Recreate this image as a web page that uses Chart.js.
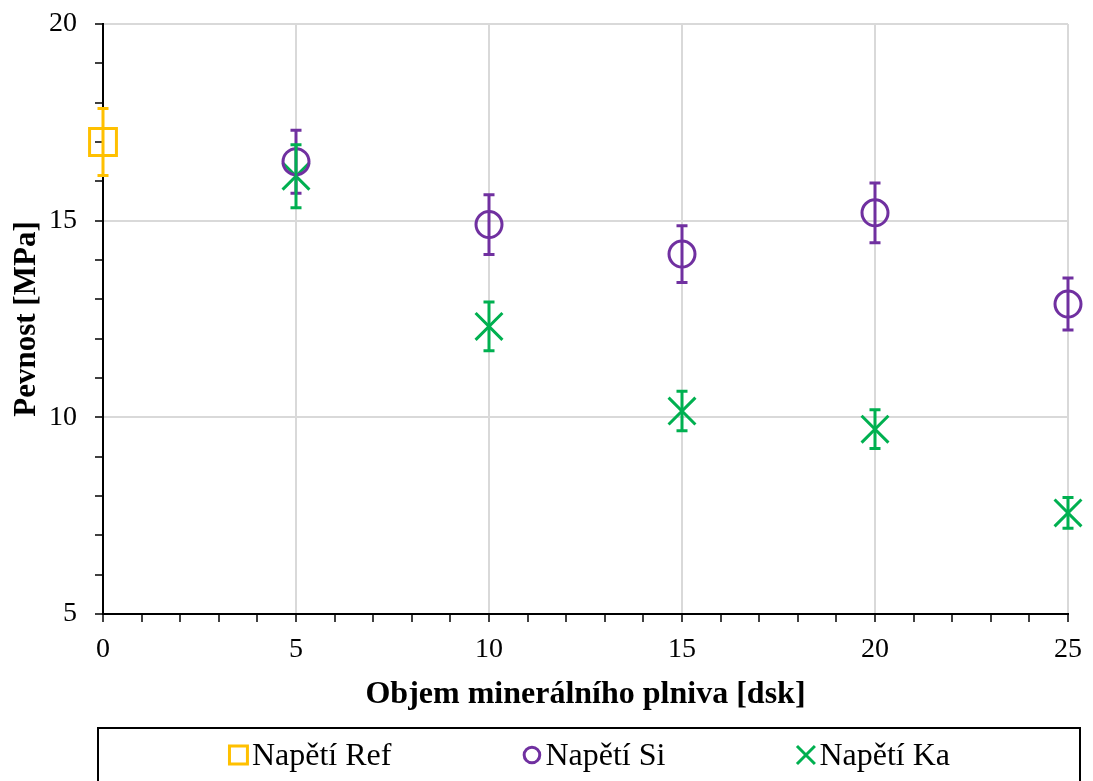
<!DOCTYPE html>
<html>
<head>
<meta charset="utf-8">
<script src="https://cdn.jsdelivr.net/npm/chart.js@4/dist/chart.umd.min.js"></script>
<style>
html,body{margin:0;padding:0;background:#fff;}
#wrap{width:1093px;height:781px;position:relative;}
</style>
</head>
<body>
<div id="wrap"><canvas id="c" width="1093" height="781"></canvas></div>
<script>
// ---- data ----
const refX = [0];
const refY = [17.0];
const refErr = [0.85];

const fillerX = [5, 10, 15, 20, 25];
const siY = [16.5, 14.9, 14.15, 15.2, 12.88];
const siErr = [0.8, 0.76, 0.72, 0.76, 0.66];
const kaY = [16.13, 12.31, 10.16, 9.7, 7.57];
const kaErr = [0.8, 0.62, 0.5, 0.49, 0.39];

const seriesNames = ['Napětí Ref', 'Napětí Si', 'Napětí Ka'];
const xTitle = 'Objem minerálního plniva [dsk]';
const yTitle = 'Pevnost [MPa]';
const xMin = 0, xMax = 25, yMin = 5, yMax = 20, majorStep = 5;

const toPoints = (xs, ys) => xs.map((x, i) => ({x: x, y: ys[i]}));

const FONT = "'Liberation Serif', 'Times New Roman', serif";

const errorBarPlugin = {
  id: 'errorBars',
  afterDatasetsDraw(chart) {
    const ctx = chart.ctx;
    const xs = chart.scales.x, ys = chart.scales.y;
    chart.data.datasets.forEach((ds) => {
      if (!ds.errors) return;
      ctx.save();
      ctx.strokeStyle = ds.borderColor;
      ctx.lineWidth = 3;
      ctx.lineCap = 'butt';
      ds.data.forEach((p, i) => {
        const e = ds.errors[i];
        const px = xs.getPixelForValue(p.x);
        const yt = ys.getPixelForValue(p.y + e);
        const yb = ys.getPixelForValue(p.y - e);
        const cap = 5.5;
        ctx.beginPath();
        ctx.moveTo(px, yt); ctx.lineTo(px, yb);
        ctx.moveTo(px - cap, yt); ctx.lineTo(px + cap, yt);
        ctx.moveTo(px - cap, yb); ctx.lineTo(px + cap, yb);
        ctx.stroke();
      });
      ctx.restore();
    });
  }
};

// legend symbol radii per point style (drawn with Chart.js's own point renderer)
const legendRadius = {rect: 12.7, circle: 7.8, crossRot: 12.7};

function drawSymbol(ctx, style, radius, bw, x, y) {
  if (Chart.helpers && Chart.helpers.drawPoint) {
    Chart.helpers.drawPoint(ctx, {pointStyle: style, radius: radius, rotation: 0, borderWidth: bw}, x, y);
    return;
  }
  ctx.beginPath();
  if (style === 'rect') {
    const s = Math.SQRT1_2 * radius;
    ctx.rect(x - s, y - s, 2 * s, 2 * s);
  } else if (style === 'circle') {
    ctx.arc(x, y, radius, 0, Math.PI * 2);
  } else {
    const o = Math.SQRT1_2 * radius;
    ctx.moveTo(x - o, y - o); ctx.lineTo(x + o, y + o);
    ctx.moveTo(x - o, y + o); ctx.lineTo(x + o, y - o);
  }
  ctx.stroke();
}

const boxLegendPlugin = {
  id: 'boxLegend',
  afterDraw(chart) {
    const ctx = chart.ctx;
    const ca = chart.chartArea;
    const left = ca.left - 5;
    const right = chart.width - 13;
    const top = chart.scales.x.bottom;
    ctx.save();
    ctx.strokeStyle = '#000';
    ctx.lineWidth = 2;
    ctx.strokeRect(left, top, right - left, 200);

    ctx.font = '32px ' + FONT;
    ctx.textBaseline = 'alphabetic';
    const symW = 21, symGap = 3, itemGap = 130;
    const items = chart.data.datasets.map((ds) => ({
      ds: ds, text: ds.label, tw: ctx.measureText(ds.label).width
    }));
    let total = 0;
    items.forEach((it, i) => { total += symW + symGap + it.tw + (i ? itemGap : 0); });
    let x = (left + right) / 2 - total / 2;
    const cy = top + 27;
    items.forEach((it) => {
      ctx.save();
      ctx.strokeStyle = it.ds.borderColor;
      ctx.fillStyle = 'rgba(0,0,0,0)';
      ctx.lineWidth = 3;
      drawSymbol(ctx, it.ds.pointStyle, legendRadius[it.ds.pointStyle], 3, x + symW / 2, cy);
      ctx.restore();
      ctx.fillStyle = '#000';
      ctx.fillText(it.text, x + symW + symGap, cy + 10);
      x += symW + symGap + it.tw + itemGap;
    });
    ctx.restore();
  }
};

const gridColor = (ctx) => (ctx.tick && ctx.tick.value % majorStep === 0) ? '#d9d9d9' : 'rgba(0,0,0,0)';

new Chart(document.getElementById('c'), {
  type: 'scatter',
  data: {
    datasets: [
      {
        label: seriesNames[0],
        data: toPoints(refX, refY),
        errors: refErr,
        pointStyle: 'rect',
        radius: 19,
        hoverRadius: 19,
        borderColor: '#FFC000',
        backgroundColor: 'rgba(0,0,0,0)',
        borderWidth: 3,
        clip: false
      },
      {
        label: seriesNames[1],
        data: toPoints(fillerX, siY),
        errors: siErr,
        pointStyle: 'circle',
        radius: 13,
        hoverRadius: 13,
        borderColor: '#7030A0',
        backgroundColor: 'rgba(0,0,0,0)',
        borderWidth: 3,
        clip: false
      },
      {
        label: seriesNames[2],
        data: toPoints(fillerX, kaY),
        errors: kaErr,
        pointStyle: 'crossRot',
        radius: 19,
        hoverRadius: 19,
        borderColor: '#00B050',
        backgroundColor: '#00B050',
        borderWidth: 3,
        clip: false
      }
    ]
  },
  options: {
    responsive: false,
    animation: false,
    events: [],
    layout: {padding: {top: 24, left: 0, right: 24, bottom: 53}},
    scales: {
      x: {
        type: 'linear',
        min: xMin, max: xMax,
        grid: {color: gridColor, tickColor: '#000', tickLength: 8, lineWidth: 2, tickWidth: 1.5},
        border: {color: '#000', width: 2},
        ticks: {
          stepSize: 1, autoSkip: false, maxRotation: 0, padding: 11,
          color: '#000', font: {family: FONT, size: 28},
          callback: (v) => (v % majorStep === 0 ? String(v) : '')
        },
        title: {display: true, text: xTitle, color: '#000', font: {family: FONT, size: 32, weight: 'bold'}, padding: {top: 0, bottom: 14}},
        afterFit: (s) => { s.height = 114; }
      },
      y: {
        type: 'linear',
        min: yMin, max: yMax,
        grid: {color: gridColor, tickColor: '#000', tickLength: 8, lineWidth: 2, tickWidth: 1.5},
        border: {color: '#000', width: 2},
        ticks: {
          stepSize: 1, autoSkip: false, padding: 18,
          color: '#000', font: {family: FONT, size: 28},
          callback: (v) => (v % majorStep === 0 ? String(v) : '')
        },
        title: {display: true, text: yTitle, color: '#000', font: {family: FONT, size: 31, weight: 'bold'}, padding: {top: 8, bottom: 0}},
        afterFit: (s) => { s.width = 103; s.paddingTop = 0; s.paddingBottom = 0; }
      }
    },
    plugins: {
      legend: {display: false},
      tooltip: {enabled: false}
    }
  },
  plugins: [errorBarPlugin, boxLegendPlugin]
});
</script>
</body>
</html>
